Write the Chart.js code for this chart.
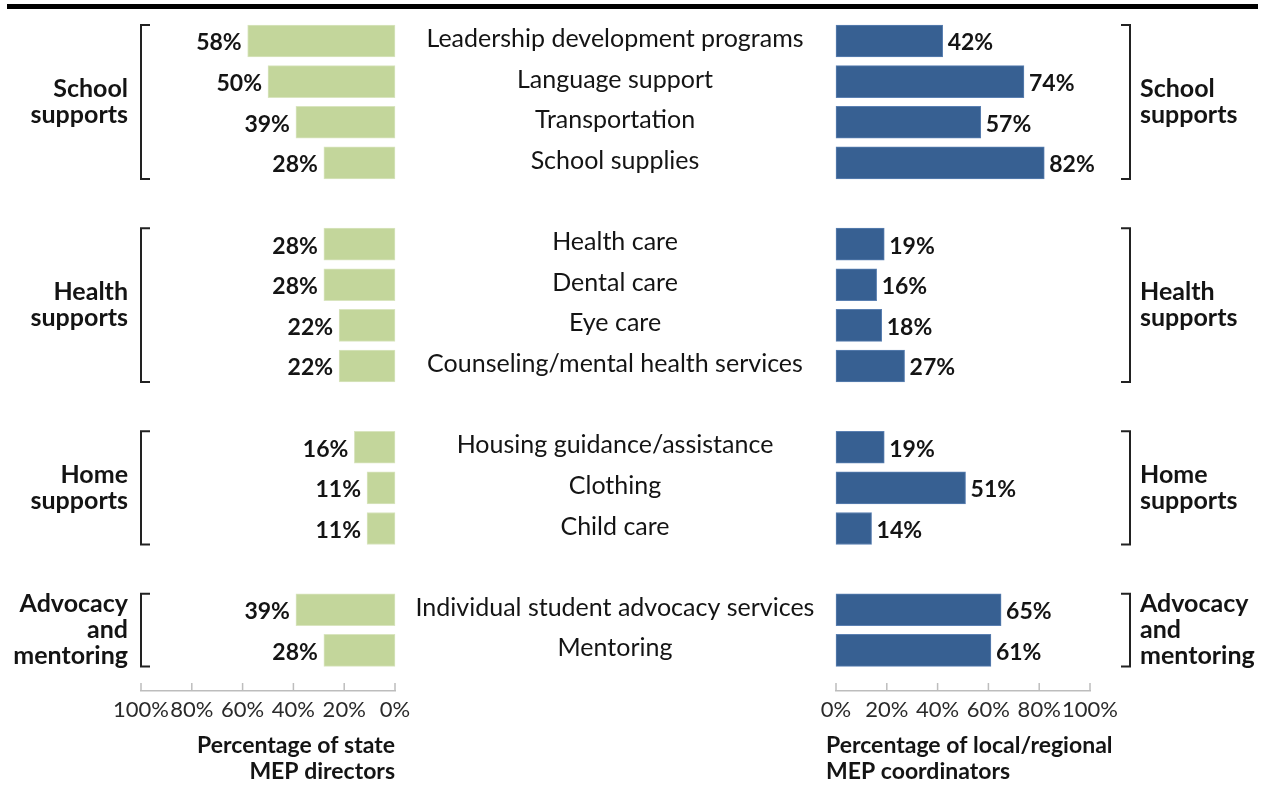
<!DOCTYPE html>
<html>
<head>
<meta charset="utf-8">
<script src="https://cdn.jsdelivr.net/npm/chart.js@4.4.1/dist/chart.umd.min.js"></script>
<style>
    body { margin: 0; background: #fff; }
    #wrap { position: relative; width: 1264px; height: 801px; }
    #topRule { position: absolute; left: 7px; top: 4px; width: 1251px; height: 5px; background: #000; }
    canvas { position: absolute; top: 0; }
</style>
</head>
<body>
<div id="wrap">
    <div id="topRule"></div>
    <canvas id="left-chart" width="420" height="801" style="left:0"></canvas>
    <canvas id="right-chart" width="864" height="801" style="left:400px"></canvas>
</div>
<script>
const groupNames = [['School', 'supports'], ['Health', 'supports'], ['Home', 'supports'], ['Advocacy', 'and', 'mentoring']];
const groupItems = [
    ['Leadership development programs', 'Language support', 'Transportation', 'School supplies'],
    ['Health care', 'Dental care', 'Eye care', 'Counseling/mental health services'],
    ['Housing guidance/assistance', 'Clothing', 'Child care'],
    ['Individual student advocacy services', 'Mentoring']
];
const stateDirectors = [[58, 50, 39, 28], [28, 28, 22, 22], [16, 11, 11], [39, 28]];
const localCoordinators = [[42, 74, 57, 82], [19, 16, 18, 27], [19, 51, 14], [65, 61]];
const leftTitle = ['Percentage of state', 'MEP directors'];
const rightTitle = ['Percentage of local/regional', 'MEP coordinators'];

// flatten groups, one blank row after each group (last blank is the gap above the axis)
const labels = [], leftVals = [], rightVals = [], spans = [];
groupItems.forEach((items, g) => {
    const first = labels.length;
    items.forEach((name, i) => {
        labels.push(name);
        leftVals.push(stateDirectors[g][i]);
        rightVals.push(localCoordinators[g][i]);
    });
    spans.push([first, labels.length - 1]);
    labels.push('');
    leftVals.push(null);
    rightVals.push(null);
});

const FONT = 'Lato';
const INK = '#141414';

// axis ticks point up into the plot, like the original
const innerTicks = {
    id: 'innerTicks',
    afterDraw(chart) {
        const { ctx } = chart;
        const x = chart.scales.x;
        const b = chart.chartArea.bottom;
        ctx.save();
        ctx.strokeStyle = '#bdbdbd';
        ctx.lineWidth = 1.5;
        x.ticks.forEach((t, i) => {
            const px = x.getPixelForTick(i);
            ctx.beginPath();
            ctx.moveTo(px, b - 8);
            ctx.lineTo(px, b);
            ctx.stroke();
        });
        ctx.restore();
    }
};

// the built-in title gets squeezed to the axis width (and flips on a reversed scale), so draw it here
const axisTitle = {
    id: 'axisTitle',
    afterDraw(chart, args, opts) {
        const { ctx } = chart;
        const x = chart.scales.x;
        const left = opts.side === 'left';
        ctx.save();
        ctx.font = 'bold 23px ' + FONT;
        ctx.fillStyle = INK;
        ctx.textAlign = left ? 'right' : 'left';
        ctx.textBaseline = 'middle';
        (left ? leftTitle : rightTitle).forEach((t, k) => {
            ctx.fillText(t, left ? x.right : x.left - 10, x.bottom - 55 + k * 26);
        });
        ctx.restore();
    }
};

const valueLabels = {
    id: 'valueLabels',
    afterDatasetsDraw(chart, args, opts) {
        const { ctx } = chart;
        const data = chart.data.datasets[0].data;
        const left = opts.side === 'left';
        ctx.save();
        ctx.font = 'bold 23px ' + FONT;
        ctx.fillStyle = INK;
        ctx.textBaseline = 'middle';
        ctx.textAlign = left ? 'right' : 'left';
        chart.getDatasetMeta(0).data.forEach((bar, i) => {
            if (data[i] == null) return;
            ctx.fillText(data[i] + '%', left ? bar.x - 6 : bar.x + 5, bar.y + 2);
        });
        ctx.restore();
    }
};

const brackets = {
    id: 'brackets',
    afterDraw(chart, args, opts) {
        const { ctx, chartArea } = chart;
        const y = chart.scales.y;
        const left = opts.side === 'left';
        const bx = left ? chartArea.left : chartArea.right + 40;
        const hook = left ? 9 : -9;
        ctx.save();
        spans.forEach(([f, l], g) => {
            const top = y.getPixelForValue(f) - 16;
            const bot = y.getPixelForValue(l) + 16;
            ctx.strokeStyle = '#222';
            ctx.lineWidth = 2;
            ctx.beginPath();
            ctx.moveTo(bx + hook, top);
            ctx.lineTo(bx, top);
            ctx.lineTo(bx, bot);
            ctx.lineTo(bx + hook, bot);
            ctx.stroke();

            const lines = groupNames[g];
            const mid = (top + bot) / 2;
            ctx.font = 'bold 25px ' + FONT;
            ctx.fillStyle = INK;
            ctx.textBaseline = 'middle';
            ctx.textAlign = left ? 'right' : 'left';
            lines.forEach((t, k) => {
                ctx.fillText(t, left ? bx - 13 : bx + 10, mid + (k - (lines.length - 1) / 2) * 26);
            });
        });
        ctx.restore();
    }
};

// item names sit in the gap between the two panels
const itemLabels = {
    id: 'itemLabels',
    afterDraw(chart) {
        const { ctx, chartArea } = chart;
        const y = chart.scales.y;
        ctx.save();
        ctx.font = '25px ' + FONT;
        ctx.fillStyle = INK;
        ctx.textAlign = 'center';
        ctx.textBaseline = 'middle';
        labels.forEach((name, i) => {
            if (!name) return;
            ctx.fillText(name, chartArea.left - 221, y.getPixelForValue(i) - 2);
        });
        ctx.restore();
    }
};

function makePanel(id, values, side) {
    const left = side === 'left';
    return new Chart(document.getElementById(id), {
        type: 'bar',
        data: {
            labels: labels,
            datasets: [{
                data: values,
                backgroundColor: left ? '#c3d69b' : '#376092',
                borderColor: left ? '#d9e5bf' : '#5b80b2',
                borderWidth: 1,
                borderSkipped: false,
                barThickness: 32,
                clip: false
            }]
        },
        options: {
            indexAxis: 'y',
            responsive: false,
            animation: false,
            layout: { padding: left ? { left: 141, right: 25, top: 41, bottom: 0 } : { left: 436, right: 174, top: 41, bottom: 0 } },
            plugins: {
                legend: { display: false },
                tooltip: { enabled: false },
                valueLabels: { side },
                brackets: { side },
                axisTitle: { side }
            },
            scales: {
                y: { type: 'category', offset: false, display: false },
                x: {
                    type: 'linear', min: 0, max: 100, reverse: left,
                    grid: { display: false },
                    border: { display: true, color: '#bdbdbd', width: 1.5 },
                    ticks: {
                        stepSize: 20, autoSkip: false, maxRotation: 0, padding: -2,
                        color: '#2a2a2a', font: { family: FONT, size: 22 },
                        callback: v => v + '%'
                    },
                    afterFit: s => { s.height = 110; }
                }
            }
        },
        plugins: left ? [innerTicks, valueLabels, brackets, axisTitle] : [innerTicks, valueLabels, brackets, axisTitle, itemLabels]
    });
}

makePanel('left-chart', leftVals, 'left');
makePanel('right-chart', rightVals, 'right');
</script>
</body>
</html>
